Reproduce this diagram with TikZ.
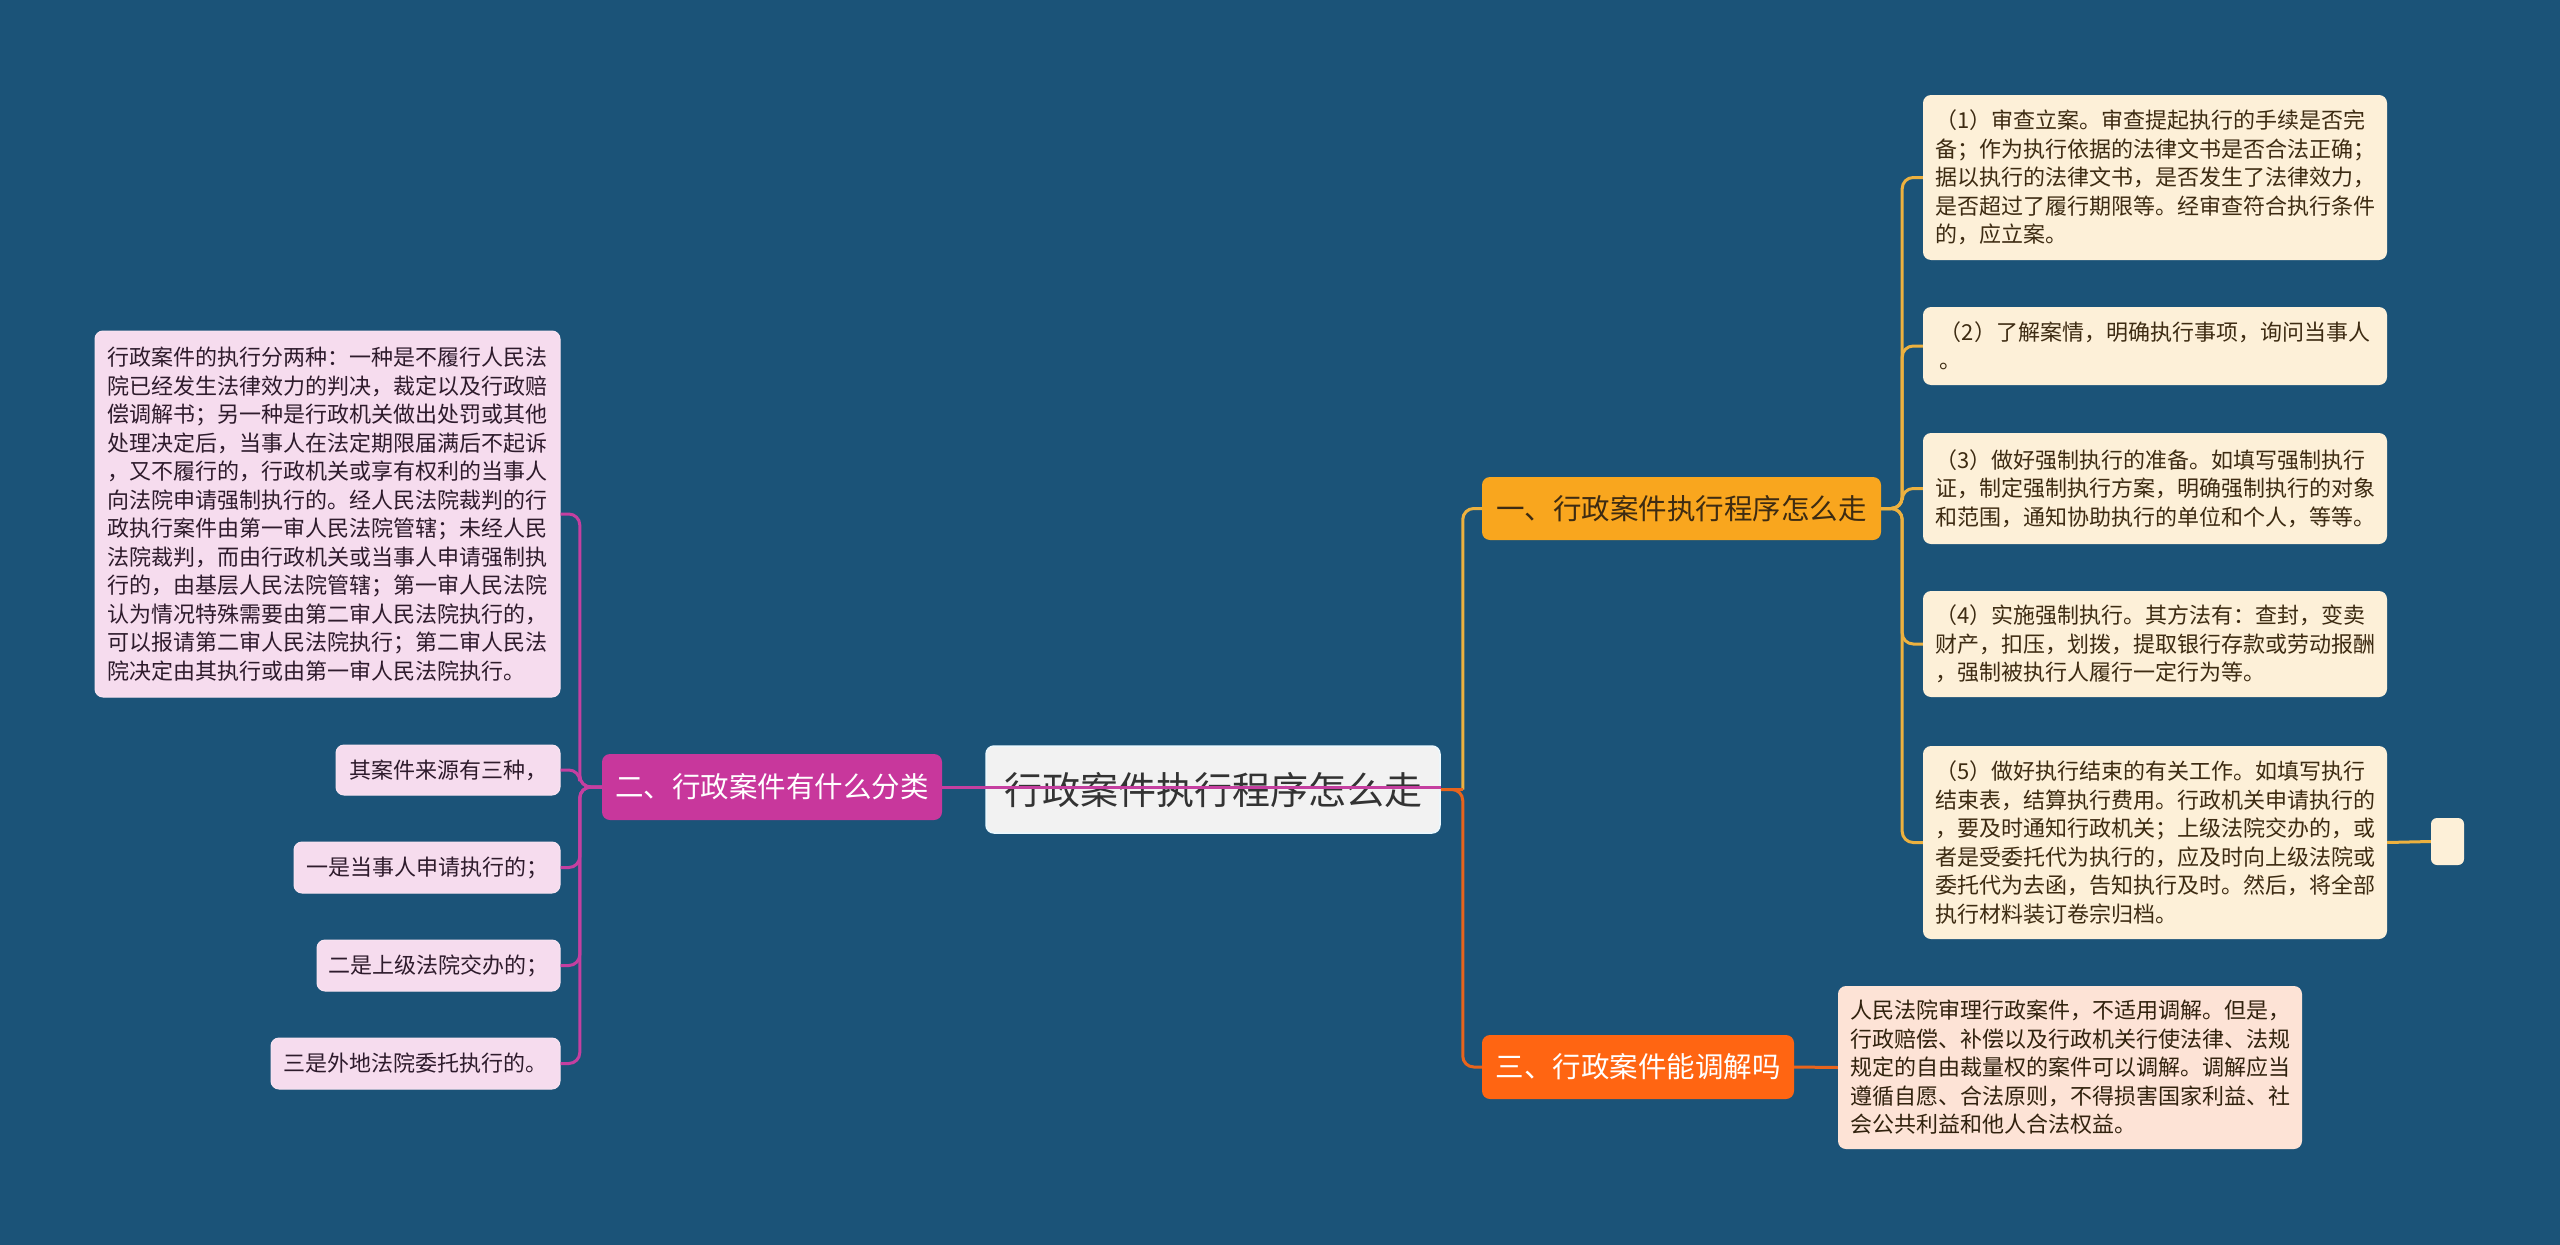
\documentclass[tikz,border=0pt]{standalone}
\usepackage{fontspec}
\setmainfont{Noto Sans CJK SC}
\definecolor{bg}{HTML}{1B5378}
\definecolor{mag}{HTML}{C8379C}
\definecolor{magline}{HTML}{C53FA0}
\definecolor{pinkbox}{HTML}{F6DCEE}
\definecolor{gold}{HTML}{F9A61E}
\definecolor{goldline}{HTML}{EDB13F}
\definecolor{cream}{HTML}{FDF0D8}
\definecolor{orng}{HTML}{FF6512}
\definecolor{orngline}{HTML}{E8641C}
\definecolor{peach}{HTML}{FDE3D6}
\definecolor{brown}{HTML}{3D2B12}
\definecolor{plum}{HTML}{2E1B2C}
\tikzset{
  box/.style={rounded corners=8pt, inner sep=0pt, align=left},
  leaf/.style={box, fill=pinkbox, draw=pinkbox!80!white, line width=1pt, text=plum, font=\fontsize{22}{28.5}\selectfont},
  rleaf/.style={box, fill=cream, text=brown, font=\fontsize{22}{28.5}\selectfont},
  dleaf/.style={box, fill=peach, text=brown!80!black, font=\fontsize{22}{28.5}\selectfont},
  topic/.style={box, font=\fontsize{28.5}{34}\selectfont},
  mline/.style={magline, line width=3pt, rounded corners=11pt},
  gline/.style={goldline, line width=3pt, rounded corners=11pt},
  oline/.style={orngline, line width=3pt, rounded corners=11pt}
}
\begin{document}
\begin{tikzpicture}[x=1pt,y=-1pt]
\useasboundingbox (0,0) rectangle (2560,1245);
\fill[bg] (0,0) rectangle (2560,1245);

% center
\node[box, fill=white!95!black, draw=cyan!8!white, line width=1.5pt, text=black!80, font=\fontsize{38}{44}\selectfont, minimum width=454pt, minimum height=87pt, align=center] (c) at (1213,789.5) {行政案件执行程序怎么走};

% main branches
\node[topic, fill=mag, text=white, minimum width=340pt, minimum height=66pt, align=center] (n2) at (772,787) {二、行政案件有什么分类};
\node[topic, fill=gold, text=brown, minimum width=399pt, minimum height=63pt, align=center] (n1) at (1681.5,508.5) {一、行政案件执行程序怎么走};
\node[topic, fill=orng, text=white, minimum width=312pt, minimum height=64pt, align=center] (n3) at (1638,1067) {三、行政案件能调解吗};

% left leaves
\node[leaf, minimum width=465pt, minimum height=366pt] (l0) at (327.5,514) {行政案件的执行分两种：一种是不履行人民法\\院已经发生法律效力的判决，裁定以及行政赔\\偿调解书；另一种是行政机关做出处罚或其他\\处理决定后，当事人在法定期限届满后不起诉\\，又不履行的，行政机关或享有权利的当事人\\向法院申请强制执行的。经人民法院裁判的行\\政执行案件由第一审人民法院管辖；未经人民\\法院裁判，而由行政机关或当事人申请强制执\\行的，由基层人民法院管辖；第一审人民法院\\认为情况特殊需要由第二审人民法院执行的，\\可以报请第二审人民法院执行；第二审人民法\\院决定由其执行或由第一审人民法院执行。};
\node[leaf, minimum width=224pt, minimum height=50pt, align=center] (l1) at (448,770) {其案件来源有三种，};
\node[leaf, minimum width=266pt, minimum height=51pt, align=center] (l2) at (427,867.5) {一是当事人申请执行的；};
\node[leaf, minimum width=243pt, minimum height=51pt, align=center] (l3) at (438.5,965.5) {二是上级法院交办的；};
\node[leaf, minimum width=289pt, minimum height=51pt, align=center] (l4) at (415.5,1063.5) {三是外地法院委托执行的。};

% right leaves
\node[rleaf, minimum width=464pt, minimum height=165pt] (r1) at (2155,177.5) {（1）审查立案。审查提起执行的手续是否完\\备；作为执行依据的法律文书是否合法正确；\\据以执行的法律文书，是否发生了法律效力，\\是否超过了履行期限等。经审查符合执行条件\\的，应立案。};
\node[rleaf, minimum width=464pt, minimum height=78pt] (r2) at (2155,346) {（2）了解案情，明确执行事项，询问当事人\hspace{22pt}\\。};
\node[rleaf, minimum width=464pt, minimum height=111pt] (r3) at (2155,488.5) {（3）做好强制执行的准备。如填写强制执行\\证，制定强制执行方案，明确强制执行的对象\\和范围，通知协助执行的单位和个人，等等。};
\node[rleaf, minimum width=464pt, minimum height=106pt] (r4) at (2155,644) {（4）实施强制执行。其方法有：查封，变卖\\财产，扣压，划拨，提取银行存款或劳动报酬\\，强制被执行人履行一定行为等。};
\node[rleaf, minimum width=464pt, minimum height=193pt] (r5) at (2155,842.5) {（5）做好执行结束的有关工作。如填写执行\\结束表，结算执行费用。行政机关申请执行的\\，要及时通知行政机关；上级法院交办的，或\\者是受委托代为执行的，应及时向上级法院或\\委托代为去函，告知执行及时。然后，将全部\\执行材料装订卷宗归档。};
\node[rleaf, rounded corners=6pt, minimum width=33pt, minimum height=47pt] (sm) at (2447.5,841.5) {};
\node[dleaf, minimum width=464pt, minimum height=163pt] (d3) at (2070,1067.5) {人民法院审理行政案件，不适用调解。但是，\\行政赔偿、补偿以及行政机关行使法律、法规\\规定的自由裁量权的案件可以调解。调解应当\\遵循自愿、合法原则，不得损害国家利益、社\\会公共利益和他人合法权益。};

% connectors left
\foreach \t in {l0,l1,l2,l3,l4}
  \draw[mline] (n2.west) -- ++(-22,0) |- (\t.east);
\draw[magline, line width=3pt] (n2.east) -- (n2.east -| c.east);

% connectors right
\draw[oline] (c.east) -- ++(22,0) |- (n3.west);
\draw[gline] (c.east) ++(22,0) |- (n1.west);
\draw[orngline, line width=3pt] (c.east) -- ++(22,0);
\foreach \t in {r1,r2,r3,r4,r5}
  \draw[gline] (n1.east) -- ++(21,0) |- (\t.west);
\draw[goldline, line width=3pt] (r5.east) -- (sm.west);
\draw[orngline, line width=3pt] (n3.east) -- (d3.west);
\end{tikzpicture}
\end{document}
